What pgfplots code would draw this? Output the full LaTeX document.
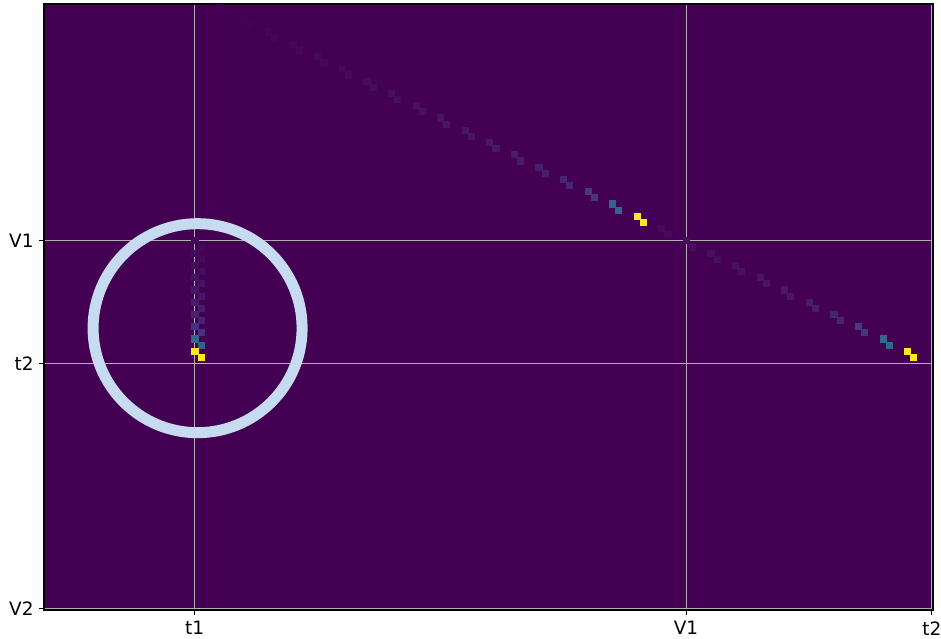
\documentclass[border=0pt]{standalone}
\usepackage{pgfplots}
\pgfplotsset{compat=1.18}
\usepackage{pgfplotstable}
\usepackage{fontspec}
\setmainfont{DejaVu Sans}
\definecolor{vbg}{RGB}{68,1,84}
\definecolor{ring}{RGB}{198,219,239}
\definecolor{gridc}{RGB}{176,176,176}
\pgfplotstableread{
x y v
28 0 0.003
29 1 0.003
32 2 0.006
33 3 0.006
36 4 0.01
37 5 0.01
40 6 0.015
41 7 0.015
44 8 0.02
45 9 0.02
48 10 0.025
49 11 0.025
52 12 0.03
53 13 0.03
56 14 0.035
57 15 0.035
60 16 0.04
61 17 0.04
64 18 0.05
65 19 0.05
68 20 0.055
69 21 0.055
72 22 0.06
73 23 0.06
76 24 0.07
77 25 0.07
80 26 0.08
81 27 0.08
84 28 0.1
85 29 0.1
88 30 0.17
89 31 0.16
92 32 0.33
93 33 0.32
96 34 1.0
97 35 1.0
100 36 0.025
101 37 0.025
104 38 0.03
105 39 0.03
108 40 0.035
109 41 0.035
112 42 0.04
113 43 0.04
116 44 0.05
117 45 0.05
120 46 0.06
121 47 0.06
124 48 0.07
125 49 0.07
128 50 0.1
129 51 0.1
132 52 0.17
133 53 0.16
136 54 0.33
137 55 0.33
140 56 1.0
141 57 1.0
24 38 0.015
25 39 0.015
24 40 0.025
25 41 0.025
24 42 0.035
25 43 0.035
24 44 0.045
25 45 0.045
24 46 0.055
25 47 0.055
24 48 0.07
25 49 0.07
24 50 0.09
25 51 0.09
24 52 0.14
25 53 0.14
24 54 0.33
25 55 0.30
24 56 1.0
25 57 1.0
}\cells
\begin{document}
\begin{tikzpicture}
\begin{axis}[
  name=ax,
  scale only axis, width=889bp, height=606bp,
  xmin=-0.5, xmax=144.2, ymin=-98.2, ymax=0.5,
  axis background/.style={fill=vbg},
  axis on top,
  xtick={24,104,144}, xticklabels={t1,V1,t2},
  ytick={-38,-58,-98}, yticklabels={V1,t2,V2},
  xtick pos=bottom, ytick pos=left,
  grid=major, major grid style={gridc, line width=0.8bp},
  tick align=outside, major tick length=5bp,
  tick style={black, line width=0.8bp},
  axis line style={black, line width=1.4bp},
  ticklabel style={font=\fontsize{18.5}{21}\selectfont},
  xticklabel style={yshift=-3bp},
  yticklabel style={xshift=-2bp},
  colormap name=viridis, point meta min=0, point meta max=1,
]
\addplot[scatter, only marks, mark=square*, mark size=3.07bp,
  scatter/use mapped color={draw=mapped color, fill=mapped color},
  line width=0.1bp, point meta=explicit]
  table[x=x, y expr=-\thisrow{y}, meta=v]{\cells};
\addplot[only marks, mark=o, mark size=104.5bp,
  mark options={draw=ring, line width=11bp}] coordinates {(24.5,-52.3)};
\end{axis}
\pgfresetboundingbox
\path[use as bounding box] ([xshift=-44bp,yshift=-29bp]ax.south west) rectangle ([xshift=8bp,yshift=4bp]ax.north east);
\end{tikzpicture}
\end{document}
